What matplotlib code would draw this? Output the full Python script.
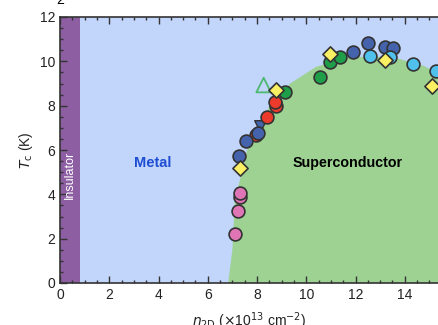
import matplotlib.pyplot as plt
from matplotlib.ticker import MultipleLocator

plt.rcParams['font.family'] = ['Liberation Sans', 'DejaVu Sans']

# phase boundaries
insulator_edge = 0.8
dome_x = [6.83, 7.0, 7.1, 7.6, 8.13, 8.6, 9.35, 10.4, 11.8, 13.1, 13.8, 14.76, 15.3, 16.0]
dome_y = [0.0, 1.5, 3.7, 6.0, 7.1, 8.2, 9.0, 9.75, 10.2, 10.2, 10.1, 9.8, 9.5, 9.1]

# data sets: (n2D, Tc)
pink_x = [7.11, 7.24, 7.32, 7.32]
pink_y = [2.2, 3.25, 3.9, 4.05]
red_x = [7.97, 8.40, 8.78, 8.74]
red_y = [6.68, 7.5, 7.98, 8.18]
navy_x = [7.25, 7.56, 8.06, 11.9, 12.49, 13.21, 13.52]
navy_y = [5.74, 6.42, 6.75, 10.43, 10.81, 10.66, 10.61]
sky_x = [12.6, 13.39, 14.34, 15.28]
sky_y = [10.24, 10.18, 9.88, 9.56]
green_x = [9.15, 10.57, 10.98, 11.38]
green_y = [8.63, 9.3, 9.98, 10.18]
yellow_x = [7.32, 8.78, 10.98, 13.18, 15.11]
yellow_y = [5.19, 8.7, 10.33, 10.06, 8.9]
tri_down_x = [8.13]
tri_down_y = [7.08]
tri_open_x = [8.27]
tri_open_y = [8.93]

xmax = 15.35

fig = plt.figure(figsize=(4.38, 3.25), dpi=100)
ax = fig.add_axes([60/438, 42/325, 378/438, 266/325])

ax.axvspan(0, insulator_edge, color='#8E5EA2', lw=0, zorder=0)
ax.axvspan(insulator_edge, 17, color='#C2D5FA', lw=0, zorder=0)
ax.fill(dome_x + [16.0], dome_y + [0.0], color='#9DD293', lw=0, zorder=1)

mk = dict(s=85, edgecolors='#333333', linewidths=1.2, zorder=3)
ax.scatter(pink_x, pink_y, c='#E075B5', **mk)
ax.scatter(red_x, red_y, c='#EC3A2C', **mk)
ax.scatter(navy_x, navy_y, c='#4563AC', **mk)
ax.scatter(tri_down_x, tri_down_y, marker='v', c='#4563AC', s=70,
           edgecolors='#333333', linewidths=1.0, zorder=2)
ax.scatter(sky_x, sky_y, c='#50C0EC', **mk)
ax.scatter(green_x, green_y, c='#1F9E4A', **mk)
ax.scatter(yellow_x, yellow_y, marker='D', c='#FAF064', s=60,
           edgecolors='#333333', linewidths=1.2, zorder=4)
ax.scatter(tri_open_x, tri_open_y, marker='^', facecolors='none',
           edgecolors='#4CB870', s=110, linewidths=1.3, zorder=3)

ax.text(3.75, 5.4, 'Metal', color='#1E4ED4', fontsize=10.5, fontweight='bold',
        ha='center', va='center')
ax.text(11.67, 5.4, 'Superconductor', color='black', fontsize=10.3,
        fontweight='bold', ha='center', va='center')
ax.text(0.42, 4.87, 'Insulator', color='white', fontsize=9,
        rotation=90, ha='center', va='center')

ax.set_xlim(0, xmax)
ax.set_ylim(0, 12)
ax.xaxis.set_major_locator(MultipleLocator(2))
ax.xaxis.set_minor_locator(MultipleLocator(0.5))
ax.yaxis.set_major_locator(MultipleLocator(2))
ax.yaxis.set_minor_locator(MultipleLocator(0.5))
ax.tick_params(which='both', direction='in', top=True, right=False,
               color='#333333', labelsize=10, labelcolor='#222222')
ax.tick_params(which='major', length=5, width=1)
ax.tick_params(which='minor', length=2.5, width=1)
ax.spines['right'].set_visible(False)
for s in ['left', 'bottom', 'top']:
    ax.spines[s].set_color('#333333')
    ax.spines[s].set_linewidth(1.2)

ax.set_ylabel(r'$T_\mathrm{c}$ (K)', fontsize=10, labelpad=3, color='#222222')
ax.set_xlabel(r'$n_\mathrm{2D}$ ($\times$10$^{13}$ cm$^{-2}$)', fontsize=10,
              labelpad=6, color='#222222')
fig.text(60/438, 1.0, '2', fontsize=10, ha='center', va='center')

fig.savefig('out.png', dpi=100)
